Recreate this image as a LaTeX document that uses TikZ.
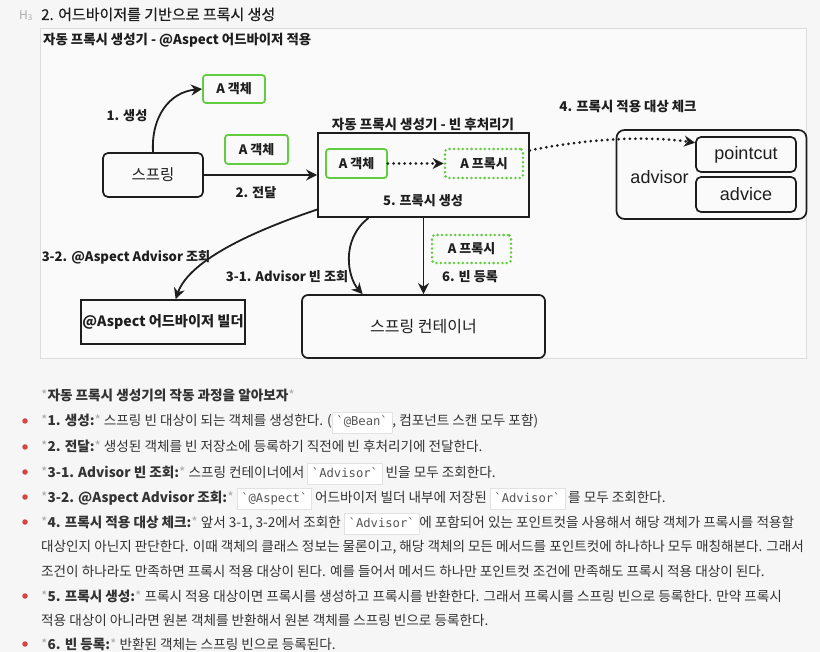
\documentclass[tikz,border=0pt]{standalone}
\usepackage{fontspec}
\setmainfont{Noto Sans CJK KR}
\newfontfamily\titlefont{Noto Sans CJK KR}[FakeBold=0.5]
\newfontfamily\latinfont{Liberation Sans}
\newfontfamily\monofont{DejaVu Sans Mono}[Ligatures=TeXOff]
\usetikzlibrary{arrows.meta}
\definecolor{pagebg}{HTML}{F6F6F6}
\definecolor{framebg}{HTML}{FAFAFA}
\definecolor{frameline}{HTML}{DDDDDD}
\definecolor{ink}{HTML}{1E1E1E}
\definecolor{bodytext}{HTML}{333333}
\definecolor{gr}{HTML}{62CC40}
\definecolor{bulletred}{HTML}{D64541}
\definecolor{astgray}{HTML}{AAAAAA}
\definecolor{codeline}{HTML}{E2E2E2}
\definecolor{codetext}{HTML}{555555}
\definecolor{h3gray}{HTML}{AAAAAA}
\newcommand\astk{{\color{astgray}\mdseries *}}
\newcommand\codebx[1]{{\setlength\fboxsep{4pt}\setlength\fboxrule{0.6pt}\fcolorbox{codeline}{white}{\monofont\fontsize{12.2}{14}\selectfont\color{codetext}\vphantom{Ag}\char96 #1\char96}}}
\tikzset{
  blackbox/.style={draw=ink, line width=1.7pt, inner sep=0pt, text=ink},
  gbox/.style={draw=gr, line width=1.8pt, rounded corners=3pt, inner sep=0pt, text=ink,
    font=\fontsize{13}{15}\selectfont\bfseries},
  gdot/.style={gbox, line width=2.8pt, dash pattern=on 0pt off 4.4pt, line cap=round},
  arr/.style={draw=ink, line width=1.8pt, -{Stealth[length=11pt,width=11pt,inset=3.5pt]}},
  darr/.style={arr, line width=3pt, dash pattern=on 0pt off 5.6pt, line cap=round},
  lbl/.style={font=\fontsize{13.1}{15}\selectfont\bfseries, text=ink, inner sep=1pt},
  bodyline/.style={anchor=base west, inner sep=0pt, text=bodytext, font=\fontsize{13.6}{16}\selectfont},
  bul/.style={circle, fill=bulletred, inner sep=0pt, minimum size=5.5pt}
}
\begin{document}
\begin{tikzpicture}[x=1pt,y=1pt]
\fill[pagebg] (0,0) rectangle (820,-652);
\useasboundingbox (0,0) rectangle (820,-652);
% heading
\node[anchor=base west, inner sep=0pt, text=h3gray, font=\fontsize{12}{13}\selectfont] (h3) at (19,-19.5) {H\raisebox{-1.5pt}{\fontsize{8}{9}\selectfont 3}};
\node[anchor=base west, inner sep=0pt, text=ink, font=\titlefont\fontsize{15}{18}\selectfont] (title) at (41,-20) {2. 어드바이저를 기반으로 프록시 생성};
% frame
\node[draw=frameline, fill=framebg, line width=0.8pt, minimum width=766pt, minimum height=330pt, inner sep=0pt] (frame) at (423,-193) {};
\node[anchor=west, lbl, font=\fontsize{13.4}{15}\selectfont\bfseries] (hdr) at (42,-40) {자동 프록시 생성기 - @Aspect 어드바이저 적용};
% boxes
\node[gbox, minimum width=62pt, minimum height=28pt] (aobj1) at (234,-89) {A 객체};
\node[blackbox, rounded corners=5pt, minimum width=100pt, minimum height=44pt, font=\fontsize{15.5}{17}\selectfont] (spring) at (153,-175) {스프링};
\node[gbox, minimum width=63pt, minimum height=29pt] (aobj2) at (256.5,-149.5) {A 객체};
\node[blackbox, minimum width=211pt, minimum height=84pt] (bpp) at (423.5,-175) {};
\node[lbl, font=\fontsize{13.5}{15}\selectfont\bfseries] (bpptitle) at (423,-124) {자동 프록시 생성기 - 빈 후처리기};
\node[gbox, minimum width=61pt, minimum height=29pt] (inobj) at (356.5,-163.5) {A 객체};
\node[gdot, minimum width=78pt, minimum height=29pt] (inproxy) at (484,-163.5) {A 프록시};
\node[lbl] (l5) at (423,-201) {5. 프록시 생성};
\node[blackbox, rounded corners=8pt, minimum width=190pt, minimum height=89pt] (advisor) at (711.5,-174.5) {};
\node[text=ink, font=\latinfont\fontsize{18}{20}\selectfont, inner sep=0pt] (advtxt) at (659.5,-177) {advisor};
\node[blackbox, rounded corners=5pt, minimum width=100pt, minimum height=35pt, font=\latinfont\fontsize{18}{20}\selectfont] (pointcut) at (746,-154.5) {pointcut};
\node[blackbox, rounded corners=5pt, minimum width=100pt, minimum height=35pt, font=\latinfont\fontsize{18}{20}\selectfont] (advice) at (746,-194.5) {advice};
\node[blackbox, minimum width=164pt, minimum height=44pt, font=\fontsize{14.2}{16}\selectfont\bfseries] (builder) at (163,-322) {@Aspect 어드바이저 빌더};
\node[blackbox, rounded corners=6pt, minimum width=243pt, minimum height=63pt, font=\fontsize{16}{18}\selectfont] (container) at (423.5,-326.5) {스프링 컨테이너};
\node[gdot, minimum width=79pt, minimum height=28pt] (proxy2) at (471.5,-249) {A 프록시};
% labels
\node[lbl] (l1) at (127,-116) {1. 생성};
\node[lbl] (l2) at (256,-193) {2. 전달};
\node[lbl, font=\fontsize{13.4}{15}\selectfont\bfseries] (l4) at (628,-106) {4. 프록시 적용 대상 체크};
\node[lbl] (l32) at (126,-257) {3-2. @Aspect Advisor 조회};
\node[lbl] (l31) at (287,-277) {3-1. Advisor 빈 조회};
\node[lbl] (l6) at (470,-277) {6. 빈 등록};
% connectors
\draw[arr] (spring.north) .. controls (151,-116) and (170,-92) .. (aobj1.west);
\draw[arr] (spring.east) -- (bpp.west);
\draw[darr] (inobj.east) -- (inproxy.west);
\draw[darr] (bpp.13) .. controls (590,-138) and (650,-136) .. (pointcut.167);
\draw[arr] (bpp.198) .. controls (262,-228) and (190,-258) .. (builder.61);
\draw[arr] (bpp.218) .. controls (340,-240) and (348,-278) .. (container.152);
\draw[arr] (bpp.south) -- (container.north);
% body text
\node[bodyline, font=\fontsize{13.6}{16}\selectfont\bfseries] (t0) at (41,-401) {\astk 자동 프록시 생성기의 작동 과정을 알아보자\astk};
\node[bul] (b1) at (25,-421) {};
\node[bodyline] (t1) at (41,-426) {\astk\textbf{1. 생성:}\astk{} 스프링 빈 대상이 되는 객체를 생성한다. (\codebx{@Bean}, 컴포넌트 스캔 모두 포함)};
\node[bul] (b2) at (25,-447) {};
\node[bodyline] (t2) at (41,-452) {\astk\textbf{2. 전달:}\astk{} 생성된 객체를 빈 저장소에 등록하기 직전에 빈 후처리기에 전달한다.};
\node[bul] (b3) at (25,-472) {};
\node[bodyline] (t3) at (41,-477) {\astk\textbf{3-1. Advisor 빈 조회:}\astk{} 스프링 컨테이너에서 \codebx{Advisor} 빈을 모두 조회한다.};
\node[bul] (b4) at (25,-497) {};
\node[bodyline] (t4) at (41,-502) {\astk\textbf{3-2. @Aspect Advisor 조회:}\astk{} \codebx{@Aspect} 어드바이저 빌더 내부에 저장된 \codebx{Advisor} 를 모두 조회한다.};
\node[bul] (b5) at (25,-522) {};
\node[bodyline] (t5) at (41,-527) {\astk\textbf{4. 프록시 적용 대상 체크:}\astk{} 앞서 3-1, 3-2에서 조회한 \codebx{Advisor}에 포함되어 있는 포인트컷을 사용해서 해당 객체가 프록시를 적용할};
\node[bodyline] (t6) at (41,-551) {대상인지 아닌지 판단한다. 이때 객체의 클래스 정보는 물론이고, 해당 객체의 모든 메서드를 포인트컷에 하나하나 모두 매칭해본다. 그래서};
\node[bodyline] (t7) at (41,-576) {조건이 하나라도 만족하면 프록시 적용 대상이 된다. 예를 들어서 메서드 하나만 포인트컷 조건에 만족해도 프록시 적용 대상이 된다.};
\node[bul] (b8) at (25,-596) {};
\node[bodyline] (t8) at (41,-601) {\astk\textbf{5. 프록시 생성:}\astk{} 프록시 적용 대상이면 프록시를 생성하고 프록시를 반환한다. 그래서 프록시를 스프링 빈으로 등록한다. 만약 프록시};
\node[bodyline] (t9) at (41,-625) {적용 대상이 아니라면 원본 객체를 반환해서 원본 객체를 스프링 빈으로 등록한다.};
\node[bul] (b10) at (25,-644) {};
\node[bodyline] (t10) at (41,-649) {\astk\textbf{6. 빈 등록:}\astk{} 반환된 객체는 스프링 빈으로 등록된다.};
\end{tikzpicture}
\end{document}
